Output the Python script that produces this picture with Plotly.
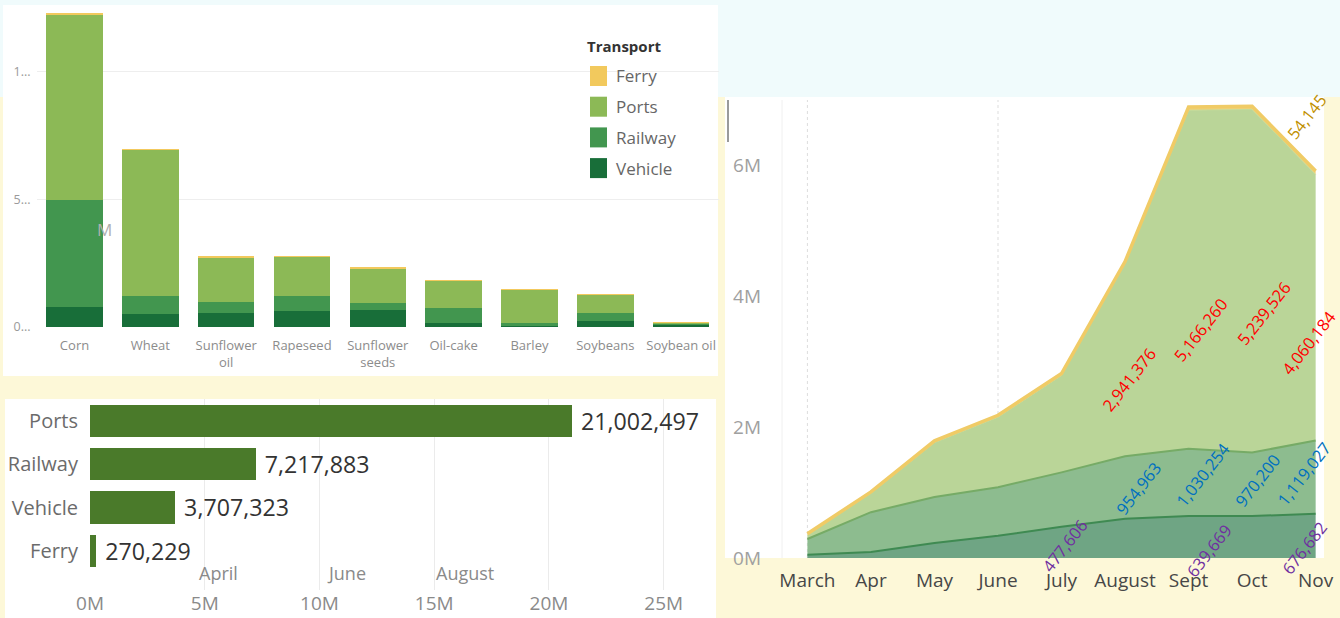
import plotly.graph_objects as go

W, H = 1340, 618

# ---- data: commodities by transport (million t) ----
crops = ["Corn", "Wheat", "Sunflower<br>oil", "Rapeseed", "Sunflower<br>seeds",
         "Oil-cake", "Barley", "Soybeans", "Soybean oil"]
vehicle_c = [0.78, 0.51, 0.55, 0.63, 0.67, 0.16, 0.04, 0.24, 0.06]
railway_c = [4.20, 0.71, 0.43, 0.59, 0.27, 0.59, 0.12, 0.31, 0.08]
ports_c = [7.25, 5.73, 1.73, 1.53, 1.37, 1.06, 1.29, 0.71, 0.03]
ferry_c = [0.04, 0.02, 0.09, 0.02, 0.03, 0.02, 0.01, 0.03, 0.01]

# ---- data: totals by transport ----
modes = ["Ferry", "Vehicle", "Railway", "Ports"]
mode_totals = [270229, 3707323, 7217883, 21002497]

# ---- data: monthly by transport ----
months = ["March", "Apr", "May", "June", "July", "August", "Sept", "Oct", "Nov"]
vehicle_m = [50000, 90000, 230000, 340000, 477606, 600000, 639669, 640000, 676682]
railway_m = [240000, 610000, 700000, 740000, 830000, 954963, 1030254, 970200, 1119027]
ports_m = [60000, 290000, 830000, 1070000, 1480000, 2941376, 5166260, 5239526, 4060184]
ferry_m = [20000, 20000, 30000, 30000, 30000, 30000, 50000, 50000, 54145]

C_FERRY, C_PORTS, C_RAIL, C_VEH = "#f2c95d", "#8cb956", "#42964f", "#186e39"


def X(x):
    return x / W


def Y(y):
    return 1 - y / H


fig = go.Figure()

# stacked bars (top left)
for name, vals, col in [("Vehicle", vehicle_c, C_VEH), ("Railway", railway_c, C_RAIL),
                        ("Ports", ports_c, C_PORTS), ("Ferry", ferry_c, C_FERRY)]:
    fig.add_trace(go.Bar(x=crops, y=vals, name=name, marker_color=col, width=0.745,
                         marker_line_width=0, showlegend=False, xaxis="x", yaxis="y"))

# horizontal totals (bottom left)
fig.add_trace(go.Bar(x=[v / 1e6 for v in mode_totals], y=modes, orientation="h",
                     marker_color="#4a7a2a", marker_line_width=0, width=0.74,
                     text=[f" {v:,}" for v in mode_totals], textposition="outside",
                     textfont=dict(size=26, color="#333333", family="Open Sans"),
                     cliponaxis=False, showlegend=False, xaxis="x2", yaxis="y2"))

# stacked areas (right)
area_specs = [("Vehicle", vehicle_m, "#6fa584", "#3f8a52", 2),
              ("Railway", railway_m, "#8dbc8f", "#76ab66", 2),
              ("Ports", ports_m, "#bad598", "#c2da98", 1),
              ("Ferry", ferry_m, "#efd27a", "#f0cb66", 3.5)]
for name, vals, fill, line, lw in area_specs:
    fig.add_trace(go.Scatter(x=months, y=vals, name=name, stackgroup="one", mode="lines",
                             fillcolor=fill, line=dict(color=line, width=lw),
                             showlegend=False, xaxis="x3", yaxis="y3"))

shapes = [
    dict(type="rect", xref="paper", yref="paper", x0=0, x1=1, y0=Y(97), y1=1,
         fillcolor="#f0fbfc", line_width=0, layer="below"),
    dict(type="rect", xref="paper", yref="paper", x0=X(3), x1=X(718), y0=Y(376), y1=Y(5),
         fillcolor="white", line_width=0, layer="below"),
    dict(type="rect", xref="paper", yref="paper", x0=X(5), x1=X(716), y0=0, y1=Y(399),
         fillcolor="white", line_width=0, layer="below"),
    dict(type="rect", xref="paper", yref="paper", x0=X(725), x1=X(1324), y0=Y(558), y1=Y(97),
         fillcolor="white", line_width=0, layer="below"),
    dict(type="line", xref="paper", yref="paper", x0=X(728), x1=X(728), y0=Y(142), y1=Y(100),
         line=dict(color="#9a9a9a", width=2)),
    dict(type="line", xref="paper", yref="paper", x0=X(782), x1=X(782), y0=Y(558), y1=Y(100),
         line=dict(color="#f0f0f0", width=1), layer="below"),
]
for m in ["March", "June"]:
    shapes.append(dict(type="line", xref="x3", yref="paper", x0=m, x1=m, y0=Y(558), y1=Y(100),
                       line=dict(color="#dddddd", width=1, dash="dot"), layer="below"))

# manual legend for the stacked bars
annotations = [dict(x=X(585), y=Y(46), xref="paper", yref="paper", text="<b>Transport</b>",
                    showarrow=False, xanchor="left", yanchor="middle",
                    font=dict(size=15, color="#333333"))]
for i, (name, col) in enumerate([("Ferry", C_FERRY), ("Ports", C_PORTS),
                                 ("Railway", C_RAIL), ("Vehicle", C_VEH)]):
    yc = 76 + i * 30.7
    shapes.append(dict(type="rect", xref="paper", yref="paper", x0=X(590), x1=X(607),
                       y0=Y(yc + 10), y1=Y(yc - 10), fillcolor=col, line_width=0))
    annotations.append(dict(x=X(614), y=Y(yc), xref="paper", yref="paper", text=name,
                            showarrow=False, xanchor="left", yanchor="middle",
                            font=dict(size=17, color="#666666")))

# stray texts in the collage
annotations.append(dict(x=X(95), y=Y(229), xref="paper", yref="paper", text="M", showarrow=False,
                        yanchor="middle", font=dict(size=17, color="#b0b0b0")))
for t, xp in [("April", 197), ("June", 325), ("August", 434)]:
    annotations.append(dict(x=X(xp), y=Y(573), xref="paper", yref="paper", text=t,
                            showarrow=False, yanchor="middle",
                            font=dict(size=18, color="#8a8a8a")))

# value labels on the area chart
cum_v = vehicle_m
cum_r = [a + b for a, b in zip(cum_v, railway_m)]
cum_p = [a + b for a, b in zip(cum_r, ports_m)]
cum_f = [a + b for a, b in zip(cum_p, ferry_m)]
label_specs = [
    (vehicle_m, [0] * 9, cum_v, "#7030a0", {4: (3, -3), 6: (20, -13), 8: (-11, -12)}),
    (railway_m, cum_v, cum_r, "#0070c0", {5: (13, -1), 6: (14, 8), 7: (5, 4), 8: (-12, 4)}),
    (ports_m, cum_r, cum_p, "#ff0000", {5: (4, -20), 6: (12, -50), 7: (11, -32), 8: (-7, -35)}),
    (ferry_m, cum_p, cum_f, "#bf9000", {8: (-9, 56)}),
]
for vals, lo, hi, col, picks in label_specs:
    for i, (dx, dy) in picks.items():
        annotations.append(dict(x=months[i], y=(lo[i] + hi[i]) / 2, xref="x3", yref="y3",
                                text=f"{vals[i]:,}", showarrow=False, textangle=-52,
                                xshift=dx, yshift=dy,
                                font=dict(size=16.5, color=col, family="Open Sans")))

fig.update_layout(
    width=W, height=H, autosize=False, margin=dict(l=0, r=0, t=0, b=0, autoexpand=False),
    paper_bgcolor="#fdf8d8", plot_bgcolor="rgba(0,0,0,0)",
    barmode="stack", font=dict(family="Open Sans", color="#888888"),
    showlegend=False, shapes=shapes, annotations=annotations,
    xaxis=dict(domain=[X(36.6), X(719)], showgrid=False, ticks="", automargin=False,
               ticklabelstandoff=9, tickfont=dict(size=13, color="#8c8c8c"), anchor="y"),
    yaxis=dict(domain=[Y(327), Y(8)], range=[0, 12.5], tickvals=[0, 5, 10], automargin=False,
               ticktext=["0...", "5...", "1..."], showgrid=True, gridcolor="#eeeeee",
               zeroline=False, ticklabelstandoff=5,
               tickfont=dict(size=12.5, color="#9a9a9a"), anchor="x"),
    xaxis2=dict(domain=[X(90), X(716.5)], range=[0, 27.3], tickvals=[0, 5, 10, 15, 20, 25],
                ticktext=["0M", "5M", "10M", "15M", "20M", "25M"], showgrid=True,
                gridcolor="#ebebeb", zeroline=False, tickfont=dict(size=19, color="#8a8a8a"),
                anchor="y2", automargin=False),
    yaxis2=dict(domain=[Y(590), Y(399)], range=[-0.9, 3.5], categoryorder="array",
                categoryarray=modes, showgrid=False, ticklabelstandoff=11, automargin=False,
                tickfont=dict(size=20, color="#6b6b6b"), anchor="x2"),
    xaxis3=dict(domain=[X(782), X(1322)], range=[-0.4, 8.1], showgrid=False, automargin=False,
                ticklabelstandoff=9, tickfont=dict(size=19, color="#474747"), anchor="y3"),
    yaxis3=dict(domain=[Y(558), Y(97)], range=[0, 7.04e6], tickvals=[0, 2e6, 4e6, 6e6],
                ticktext=["0M", "2M", "4M", "6M"], showgrid=False, zeroline=False,
                automargin=False, ticklabelstandoff=20,
                tickfont=dict(size=19, color="#a0a0a0"), anchor="x3"),
)

fig.write_html("out.html", config={"responsive": False, "displayModeBar": False},
               post_script="document.body.style.margin='0';document.body.style.overflow='hidden';")
